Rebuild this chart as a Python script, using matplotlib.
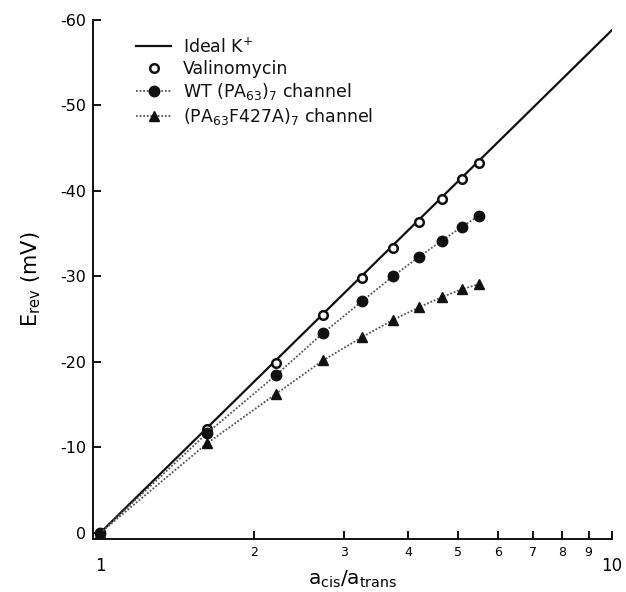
import matplotlib
matplotlib.use("Agg")
import matplotlib.pyplot as plt
from matplotlib.ticker import FixedLocator, FixedFormatter

plt.rcParams.update({
    "font.family": "DejaVu Sans",
    "mathtext.default": "regular",
    "axes.unicode_minus": False,
    "text.color": "#111", "axes.edgecolor": "#111",
})

# concentration ratio a_cis/a_trans
ratio = [1.0, 1.62, 2.21, 2.73, 3.25, 3.73, 4.20, 4.66, 5.09, 5.50]
# reversal potentials (mV)
valino = [0.0, -12.2, -19.9, -25.5, -29.8, -33.3, -36.4, -39.1, -41.4, -43.3]
wt = [0.0, -11.7, -18.5, -23.4, -27.1, -30.0, -32.3, -34.2, -35.8, -37.1]
f427a = [0.0, -10.5, -16.3, -20.2, -22.9, -24.9, -26.4, -27.6, -28.5, -29.1]
# ideal K+ (Nernst) line end points
ideal_x = [1.0, 10.0]
ideal_y = [0.0, -58.8]

minor_ticks = [2, 3, 4, 5, 6, 7, 8, 9]
y_ticks = [0, -10, -20, -30, -40, -50, -60]

fig = plt.figure(figsize=(6.26, 5.92), dpi=100)
ax = fig.add_axes([0.1486, 0.0895, 0.829, 0.877])

dot = (0, (1, 1))
ax.plot(ideal_x, ideal_y, color="#111", lw=1.6, label="Ideal K$^{+}$")
ax.plot(ratio, valino, ls="none", marker="o", ms=6.2, mfc="white",
        mec="#111", mew=1.8, label="Valinomycin")
ax.plot(ratio, wt, ls=dot, color="#555", lw=1.3, marker="o", ms=7.5,
        mfc="#111", mec="#111", label="WT (PA$_{63}$)$_7$ channel")
ax.plot(ratio, f427a, ls=dot, color="#555", lw=1.3, marker="^", ms=7.5,
        mfc="#111", mec="#111", label="(PA$_{63}$F427A)$_7$ channel")

ax.set_xscale("log")
ax.set_xlim(10 ** (-7 / 512), 10)
ax.set_ylim(0.7, -60)

ax.xaxis.set_major_locator(FixedLocator([1, 10]))
ax.xaxis.set_major_formatter(FixedFormatter(["1", "10"]))
ax.xaxis.set_minor_locator(FixedLocator(minor_ticks))
ax.xaxis.set_minor_formatter(FixedFormatter([str(t) for t in minor_ticks]))
ax.tick_params(axis="x", which="major", direction="in", length=6, width=1.3,
               labelsize=12, pad=13)
ax.tick_params(axis="x", which="minor", direction="in", length=6, width=1.3,
               labelsize=9, pad=5)
ax.set_yticks(y_ticks)
ax.tick_params(axis="y", direction="in", length=6, width=1.3, labelsize=11.5, pad=5)

for side in ["top", "right"]:
    ax.spines[side].set_visible(False)
for side in ["left", "bottom"]:
    ax.spines[side].set_linewidth(1.4)

ax.set_xlabel("a$_{cis}$/a$_{trans}$", fontsize=14.5)
ax.xaxis.set_label_coords(0.5, -0.058, transform=ax.transAxes)
ax.set_ylabel("E$_{rev}$ (mV)", fontsize=15, labelpad=12)

ax.legend(loc="upper left", bbox_to_anchor=(0.07, 0.98), frameon=False,
          fontsize=12.5, handlelength=2.0, handletextpad=0.7, labelspacing=0.2,
          borderaxespad=0)

fig.savefig("out.png", dpi=100, facecolor="white")
